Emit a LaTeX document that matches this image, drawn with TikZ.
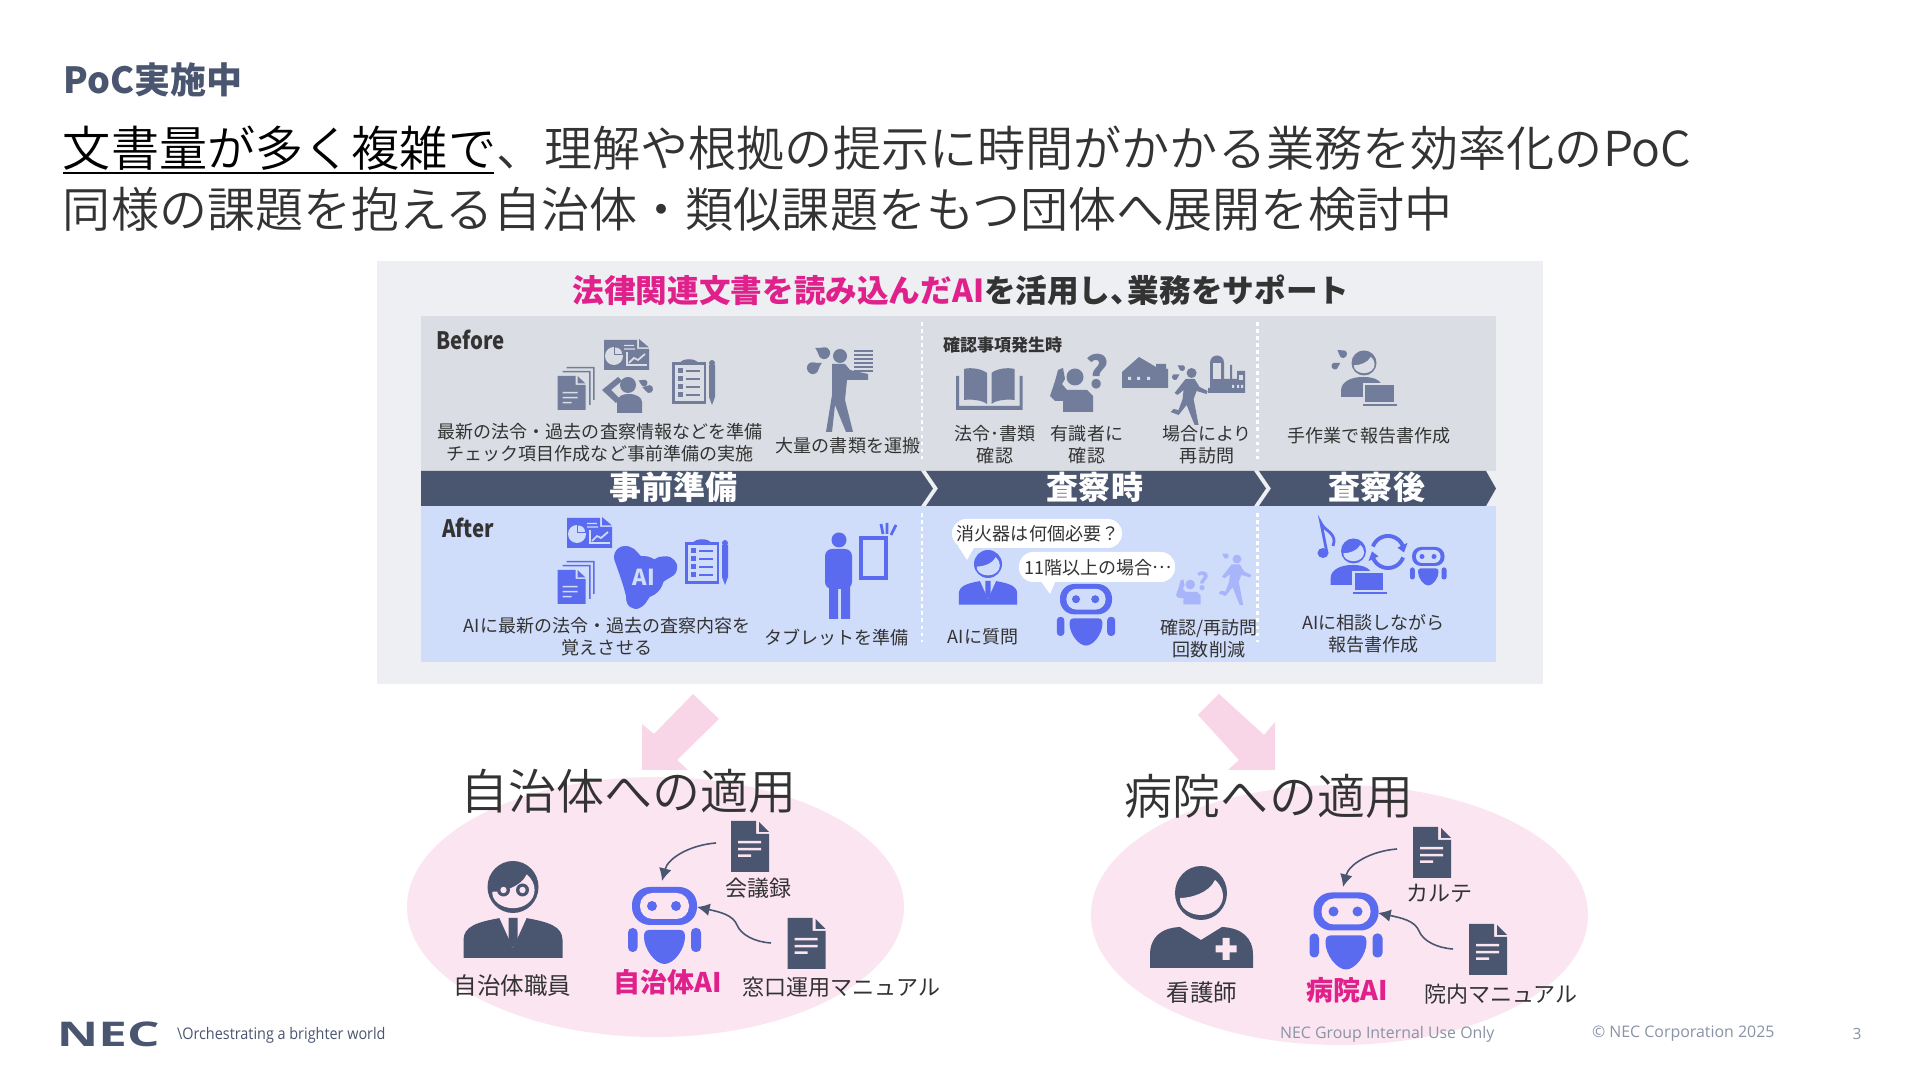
\documentclass[tikz,border=0pt]{standalone}
\usepackage{fontspec}
\usetikzlibrary{arrows.meta,calc}
\setmainfont{Noto Sans CJK JP}
\newfontfamily\lightf{Noto Sans CJK JP}[UprightFont=* DemiLight]
\newfontfamily\latinf{Open Sans}
\newcommand{\px}[2]{\fontsize{\fpeval{#1*0.28453}}{\fpeval{#2*0.28453}}\selectfont}
\definecolor{slate}{HTML}{717D9A}
\definecolor{bluei}{HTML}{5A6BF0}
\definecolor{lightb}{HTML}{A9B5FA}
\definecolor{darkb}{HTML}{4A5670}
\definecolor{pinkt}{HTML}{E1218B}
\definecolor{txt}{HTML}{333333}
\definecolor{panel}{HTML}{EDEFF3}
\definecolor{beforebg}{HTML}{DADDE3}
\definecolor{afterbg}{HTML}{CFDCFA}
\definecolor{ellip}{HTML}{FBE5F1}
\definecolor{arrowp}{HTML}{F9D5E8}
\definecolor{foot}{HTML}{8A93A6}
\tikzset{
  tx/.style={inner sep=0pt,outer sep=0pt,text=txt,align=center},
  captxt/.style={tx,font=\px{18}{22}},
  bigtxt/.style={tx,font=\px{22}{26}},
  barlabel/.style={tx,text=white,font=\bfseries\px{32}{36}},
  conn/.style={darkb,line width=0.45pt,-{Latex[length=3.6pt,width=3.6pt]}},
  dotsep/.style={white,line width=0.7pt,dash pattern=on 1pt off 1pt},
  looparc/.style={bluei,line width=1.1pt}
}
% document icon
\newcommand{\docicon}[4]{\begin{scope}[shift={(#1,#2)}]
 \fill[#3] (0,0)--(25,0)--(25,13)--(38,13)--(38,51)--(0,51)--cycle;
 \fill[#3] (28,1)--(38,11)--(28,11)--cycle;
 \fill[#4] (7,20) rectangle (30,22.5) (7,27) rectangle (30,29.5) (7,33.5) rectangle (20,36);
\end{scope}}
% robot
\newcommand{\robot}[5]{\begin{scope}[shift={(#1,#2)},scale=#3]
 \pgfmathsetmacro\rr{18*0.2845*#3}\pgfmathsetmacro\rb{12.5*0.2845*#3}\pgfmathsetmacro\ra{4.5*0.2845*#3}
 \fill[#4,rounded corners=\rr pt] (0,0) rectangle (65,38);
 \fill[#5,rounded corners=\rb pt] (8,6) rectangle (57,32);
 \fill[#4] (20,19) circle[radius=5] (44,19) circle[radius=5];
 \fill[#4,rounded corners=\ra pt] (-4,41) rectangle (5.5,65);
 \fill[#4,rounded corners=\ra pt] (59,41) rectangle (69,65);
 \fill[#4] (17,43)--(48,43) .. controls (52,43) and (53,46) .. (53,50) .. controls (53,62) and (42,77) .. (32.5,77) .. controls (23,77) and (12,62) .. (12,50) .. controls (12,46) and (13,43) .. (17,43) -- cycle;
\end{scope}}
% head ring: hair upper left
\newcommand{\headring}[6]{\begin{scope}[shift={(#1,#2)},xscale=#3/26,yscale=#4/27]
 \fill[#5] (0,0) ellipse[x radius=26,y radius=27];
 \fill[#6] (-21,5) .. controls (-10,5) and (8,0) .. (14,-13) .. controls (20,-8) and (22,-2) .. (22,3) .. controls (22,14) and (12,22) .. (0,22) .. controls (-12,22) and (-22,14) .. (-21,5) -- cycle;
\end{scope}}
% suit body
\newcommand{\suitbody}[5]{\begin{scope}[shift={(#1,#2)},scale=#3]
 \fill[#4] (-49.5,40)--(-49.5,22) .. controls (-49.5,8) and (-35,4) .. (-13,0)--(13,0) .. controls (35,4) and (49.5,8) .. (49.5,22)--(49.5,40)--cycle;
 \fill[#5] (-14,-1)--(0,30)--(14,-1)--cycle;
 \fill[#4] (-4.5,0)--(4.5,0)--(4.5,22)--(0,30)--(-4.5,22)--cycle;
\end{scope}}
% laptop person
\newcommand{\lapperson}[4]{\headring{#1}{#2}{12.5}{12.5}{#3}{#4}
\begin{scope}[shift={(#1,#2)}]
 \fill[#3] (-23,34)--(-23,28) .. controls (-23,18) and (-12,14) .. (-1,14) .. controls (12,14) and (19,18) .. (19,28)--(19,34)--cycle;
 \fill[#3,draw=#4,line width=0.7pt] (0,21) rectangle (31,40);
 \fill[#3] (-1,41.5) rectangle (33,43.5);
\end{scope}}
% drop
\newcommand{\drop}[5]{\begin{scope}[shift={(#1,#2)},rotate=#3,scale=#4]
 \fill[#5] (0,-1.7) .. controls (0.3,-0.9) and (1,-0.5) .. (1,0) .. controls (1,0.6) and (0.6,1) .. (0,1) .. controls (-0.6,1) and (-1,0.6) .. (-1,0) .. controls (-1,-0.5) and (-0.3,-0.9) .. (0,-1.7) -- cycle;
\end{scope}}
% phone person
\newcommand{\callperson}[4]{\begin{scope}[shift={(#1,#2)},scale=#3]
 \fill[#4] (25,22) circle[radius=8.5];
 \fill[#4] (8,15)--(13,13)--(15,24)--(12,29)--(17,35)--(37,35)--(43,41)--(43,57)--(13,57)--(13,46)--(5,46)--(0,41)--(5,26)--cycle;
\end{scope}}
% walker
\newcommand{\walker}[4]{\begin{scope}[shift={(#1,#2)},scale=#3]
 \fill[#4] (21,8) circle[radius=5];
 \fill[#4] (15,14)--(24,14)--(29,22)--(37,26)--(36,29)--(26,26)--(23,34)--(28,60)--(24,60)--(16,40)--(8,50)--(0,47)--(3,44)--(8,45)--(12,34)--(13,25)--(7,30)--(4,28)--cycle;
\end{scope}}
% stack of documents
\newcommand{\docstack}[4]{\begin{scope}[shift={(#1,#2)}]
 \fill[#3] (9,0) rectangle (37,1.5) (35.5,0) rectangle (37,33);
 \fill[#3] (5,4) rectangle (33,5.5) (31.5,4) rectangle (33,38);
 \fill[#3] (0,9)--(18,9)--(18,18)--(28,18)--(28,43)--(0,43)--cycle;
 \fill[#3] (20,9)--(28,16.5)--(20,16.5)--cycle;
 \fill[#4] (5,25) rectangle (20,26.5) (5,30) rectangle (20,31.5) (5,35) rectangle (14,36.5);
\end{scope}}
% chart document
\newcommand{\chartdoc}[4]{\begin{scope}[shift={(#1,#2)}]
 \fill[#3] (0,1)--(33,1)--(33,10)--(45,10)--(45,31)--(0,31)--cycle;
 \fill[#3] (35,0)--(45,8.5)--(35,8.5)--cycle;
 \fill[#4] (10,17) circle[radius=9];
 \fill[#3] (10,16) rectangle (19.5,7.5);
 \fill[#4] (11,15) -- (18,15) .. controls (18,11) and (15,8.5) .. (11,8.5) -- cycle;
 \fill[#4] (20,6) rectangle (30,7.2) (20,9.5) rectangle (31,10.7);
 \draw[#4,line width=0.35pt] (23,13)--(23,26)--(43,26);
 \draw[#4,line width=0.5pt] (25,24)--(30,19)--(34,21)--(41,15);
\end{scope}}
% clipboard
\newcommand{\clipb}[4]{\begin{scope}[shift={(#1,#2)}]
 \fill[#3] (0,3) rectangle (34,45);
 \fill[#3] (8,4) .. controls (10,-1) and (24,-1) .. (26,4) -- cycle;
 \fill[#4] (2.5,6) rectangle (31.5,42.5);
 \foreach \yy in {12,20,28,36}{
  \fill[#3] (5.5,\yy-2.5) rectangle (11,\yy+2.5);
  \fill[#3] (14,\yy-1) rectangle (28,\yy+1);
 }
 \fill[#3] (37,6)--(43,6)--(43,38)--(40,46)--(37,38)--cycle;
 \fill[#3] (40,4) circle[radius=3];
\end{scope}}
\begin{document}
\begin{tikzpicture}[x=0.01cm,y=-0.01cm]
\useasboundingbox (0,0) rectangle (1920,1080);
\fill[white] (0,0) rectangle (1920,1080);
% header
\node[tx,anchor=west,text=darkb,font=\bfseries\px{36}{40}] (poc) at (64,80) {PoC実施中};
\node[tx,anchor=west,font=\lightf\px{48.1}{56}] (l1) at (63,148) {\textcolor{black}{文書量が多く複雑で}、理解や根拠の提示に時間がかかる業務を効率化のPoC};
\draw[black,line width=0.75pt] (63,173) -- (494,173);
\node[tx,anchor=west,font=\lightf\px{48}{56}] (l2) at (63,209) {同様の課題を抱える自治体・類似課題をもつ団体へ展開を検討中};
% panel
\fill[panel] (377,261) rectangle (1543,684);
\fill[beforebg] (421,316) rectangle (1496,471);
\fill[afterbg] (421,506) rectangle (1496,662);
\node[tx,font=\bfseries\px{31.6}{36}] (ptitle) at (961,290) {\textcolor{pinkt}{法律関連文書を読み込んだAI}を活用し、\hspace{-0.45em}業務をサポート};
% chevron bar
\fill[darkb] (421,471)--(921,471)--(933,488.5)--(921,506)--(421,506)--cycle;
\fill[darkb] (926,471)--(1254,471)--(1266,488.5)--(1254,506)--(926,506)--(938,488.5)--cycle;
\fill[darkb] (1259,471)--(1486,471)--(1496,488.5)--(1486,506)--(1259,506)--(1271,488.5)--cycle;
\node[barlabel] (bar1) at (673.5,487) {事前準備};
\node[barlabel] (bar2) at (1095,487) {査察時};
\node[barlabel] (bar3) at (1377,487) {査察後};
% dotted separators
\draw[dotsep] (922,322)--(922,462);
\draw[dotsep] (1257.5,322)--(1257.5,462);
\draw[dotsep] (922,513)--(922,642);
\draw[dotsep] (1257.5,513)--(1257.5,642);
% labels
\node[tx,anchor=west,font=\bfseries\px{24}{28},xscale=0.85] (before) at (436,340) {Before};
\node[tx,anchor=west,font=\bfseries\px{24}{28},xscale=0.85] (after) at (442,528) {After};
\node[captxt] (c1) at (600,443) {最新の法令・過去の査察情報などを準備\\チェック項目作成など事前準備の実施};
\node[captxt] (c2) at (848,446) {大量の書類を運搬};
\node[tx,anchor=west,font=\bfseries\px{17}{20}] (c3) at (943,345) {確認事項発生時};
\node[captxt] (c4) at (995,445) {法令･書類\\確認};
\node[captxt] (c5) at (1087,445) {有識者に\\確認};
\node[captxt] (c6) at (1207,445) {場合により\\再訪問};
\node[captxt] (c7) at (1369,436) {手作業で報告書作成};
\node[captxt] (a1) at (607,636.5) {AIに最新の法令・過去の査察内容を\\覚えさせる};
\node[captxt] (a2) at (836.5,638) {タブレットを準備};
\node[captxt] (a3) at (983,637) {AIに質問};
\node[captxt] (a4) at (1209,639) {確認/再訪問\\回数削減};
\node[captxt] (a5) at (1373.5,634) {AIに相談しながら\\報告書作成};
% before icons
\docstack{557.5}{367}{slate}{beforebg}
\chartdoc{604}{339}{slate}{beforebg}
\fill[slate] (628,385) circle[radius=8];
\fill[slate] (617,413)--(617,402) .. controls (618,396) and (622,394) .. (629,394) .. controls (637,394) and (642,398) .. (642,402)--(642,413)--cycle;
\fill[slate] (618,377)--(602,390)--(616,403)--(620,399)--(611,390)--(622,381)--cycle;
\drop{644}{383}{65}{3.5}{slate}
\drop{649}{389}{75}{4}{slate}
\clipb{672}{359}{slate}{beforebg}
% carrying person
\fill[slate] (840,356) circle[radius=7];
\fill[slate] (832,364)--(845,364)--(850,370)--(868,374)--(868,380)--(847,380)--(845,400)--(853,432)--(846,432)--(835,405)--(832,432)--(826,432)--(832,395)--cycle;
\foreach \yy in {350,354,358,362,366,370}{\fill[slate] (854,\yy) rectangle (873,\yy+2.5);}
\drop{824}{353}{60}{6}{slate}
\drop{813}{368}{-60}{6}{slate}
% book
\begin{scope}[shift={(956,368)}]
 \fill[slate] (8,1) .. controls (15,-1) and (26,1) .. (31,5)--(31,36) .. controls (26,32) and (15,31) .. (8,32)--cycle;
 \fill[slate] (58.5,1) .. controls (51,-1) and (40,1) .. (35.5,5)--(35.5,36) .. controls (40,32) and (51,31) .. (58.5,32)--cycle;
 \fill[slate] (0,8)--(3,8)--(3,38)--(63.5,38)--(63.5,8)--(66.5,8)--(66.5,42)--(0,42)--cycle;
\end{scope}
\callperson{1050}{355}{1}{slate}
\node[tx,text=slate,font=\bfseries\px{44}{46}] (q1) at (1097,372) {?};
% factories and walker
\begin{scope}[shift={(1122,357)}]
 \fill[slate] (0,31)--(0,15)--(17,0)--(34,10)--(34,7)--(44,7)--(44,12)--(46,12)--(46,31)--cycle;
 \fill[beforebg] (6,20) rectangle (9,23) (15,20) rectangle (18,23) (25,20) rectangle (28,23);
\end{scope}
\walker{1170.6}{365}{1}{slate}
\drop{1182}{368}{60}{3}{slate}
\drop{1175}{377}{-60}{3}{slate}
\begin{scope}[shift={(1208,355)}]
 \fill[slate] (0,38)--(0,33)--(2,33)--(2,8) .. controls (2,-2) and (16,-2) .. (16,8)--(16,24)--(22,24)--(22,10)--(24,10)--(24,24)--(29,24)--(29,16)--(37,16)--(37,38)--cycle;
 \fill[beforebg] (5,8) rectangle (13,24);
 \fill[beforebg] (24,30) rectangle (26,33) (29,30) rectangle (31,33) (33,30) rectangle (35,33);
 \fill[beforebg] (31,20) rectangle (35,25);
\end{scope}
\lapperson{1364}{363}{slate}{beforebg}
\drop{1343}{354}{55}{4}{slate}
\drop{1335}{366}{-60}{3.5}{slate}
% after icons
\chartdoc{567}{517}{bluei}{afterbg}
\docstack{557.5}{561}{bluei}{afterbg}
\fill[bluei] plot[smooth cycle] coordinates {(614,557) (618,549) (626,546) (634,549) (643,558) (651,561) (659,557) (670,557) (677,565) (675,574) (666,580) (658,586) (651,595) (644,605) (636,609) (628,605) (626,596) (623,585) (619,573)};
\fill[bluei] (625,557) circle[radius=11] (667,567) circle[radius=10] (636,598) circle[radius=10] (643,577) circle[radius=21];
\node[tx,text=afterbg,font=\bfseries\px{22}{24}] (ai) at (644,577) {AI};
\clipb{685}{539}{bluei}{afterbg}
\fill[bluei] (839,540) circle[radius=7.5];
\fill[bluei,rounded corners=2pt] (825,549) rectangle (852,589);
\fill[bluei] (829,580) rectangle (838,619) (841,580) rectangle (850,619);
\draw[bluei,line width=0.9pt] (861,538) rectangle (886,578);
\draw[bluei,line width=0.8pt] (881,524)--(883,534) (887,523)--(887,534) (896,525)--(891,535);
% bubbles
\fill[white,rounded corners=4pt] (952,519) rectangle (1122,548);
\fill[white] (958,546)--(975,546)--(967,560)--cycle;
\fill[white,rounded corners=4pt] (1019,552) rectangle (1175,582);
\fill[white] (1040,580)--(1056,580)--(1050,594)--cycle;
\node[tx,font=\px{18}{22}] (b1) at (1038,534) {消火器は何個必要？};
\node[tx,font=\px{18}{22}] (b2) at (1098,567.5) {11階以上の場合\raisebox{0.3em}{…}};
% office person, robot, light figures
\headring{988}{564}{14}{14}{bluei}{afterbg}
\suitbody{988}{581}{0.59}{bluei}{afterbg}
\robot{1060}{584}{0.8}{bluei}{afterbg}
\callperson{1176}{572}{0.57}{lightb}
\node[tx,text=lightb,font=\bfseries\px{24}{26}] (q2) at (1203,581) {?};
\walker{1218.5}{552}{0.88}{lightb}
\drop{1226}{556}{60}{2.6}{lightb}
\lapperson{1353.5}{551}{bluei}{afterbg}
% note
\fill[bluei] (1323,553) ellipse[x radius=5.5,y radius=5];
\draw[bluei,line width=0.8pt] (1327,553)--(1321,523) .. controls (1324,531) and (1338,533) .. (1333,546);
% loop arrows
\draw[looparc] plot[smooth,domain=200:338,samples=25] ({1388+16*cos(\x)},{552+16*sin(\x)});
\fill[bluei] (1397.5,547.6)--(1407.5,542.9)--(1404,552.5)--cycle;
\draw[looparc] plot[smooth,domain=20:158,samples=25] ({1388+16*cos(\x)},{552+16*sin(\x)});
\fill[bluei] (1378.5,556.4)--(1368.5,561.1)--(1372,551.5)--cycle;
\robot{1412}{547}{0.5}{bluei}{afterbg}
% arrows
\fill[arrowp] (693,694)--(719,719)--(677,760)--(688,770)--(642,770)--(642,724)--(654,734)--cycle;
\fill[arrowp] (1219,694)--(1264,735)--(1275,722)--(1275,770)--(1228,770)--(1239,760)--(1198,715)--cycle;
% ellipses
\fill[ellip] (655.5,907) ellipse[x radius=248.5,y radius=130];
\fill[ellip] (1339.5,915) ellipse[x radius=248.5,y radius=130];
\node[tx,font=\lightf\px{48}{52}] (h1) at (628.5,791) {自治体への適用};
\node[tx,font=\lightf\px{48}{52}] (h2) at (1269,796) {病院への適用};
% left group
\headring{513}{887}{25.5}{26}{darkb}{ellip}
\fill[darkb] (503.5,890) circle[radius=6.5] (522.5,890) circle[radius=6.5];
\fill[ellip] (503.5,890) circle[radius=3.2] (522.5,890) circle[radius=3.2];
\suitbody{513}{918}{1}{darkb}{ellip}
\robot{632}{887}{1}{bluei}{ellip}
\docicon{731}{821}{darkb}{ellip}
\docicon{787.5}{918}{darkb}{ellip}
\coordinate (d1) at (716,843);
\coordinate (d2) at (771,943);
\coordinate (r1) at (662,881);
\coordinate (r2) at (697,907);
\draw[conn] (d1) .. controls (690,845) and (668,858) .. (r1);
\draw[conn] (d2) .. controls (755,942) and (741,935) .. (737,925) .. controls (733,915) and (720,912) .. (r2);
\node[bigtxt] (t1) at (758.5,888.5) {会議録};
\node[bigtxt] (t2) at (841.5,987.5) {窓口運用マニュアル};
\node[bigtxt,font=\px{23.5}{26}] (t3) at (512.5,985.5) {自治体職員};
\node[tx,text=pinkt,font=\bfseries\px{27}{30}] (t4) at (668,982.5) {自治体AI};
% right group
\headring{1201}{893}{26}{27}{darkb}{ellip}
\fill[darkb] (1150,968)--(1150,955) .. controls (1150,938) and (1160,928) .. (1180,927)--(1201,940)--(1222,927) .. controls (1242,928) and (1253,938) .. (1253,955)--(1253,968)--cycle;
\fill[ellip] (1222.5,938) rectangle (1229.5,960) (1215.5,945.5) rectangle (1236.5,952.5);
\robot{1313.5}{892.5}{1}{bluei}{ellip}
\docicon{1413}{827}{darkb}{ellip}
\docicon{1469}{924}{darkb}{ellip}
\coordinate (d3) at (1397,849);
\coordinate (d4) at (1453,949);
\coordinate (r3) at (1343,887);
\coordinate (r4) at (1378,913);
\draw[conn] (d3) .. controls (1371,851) and (1349,864) .. (r3);
\draw[conn] (d4) .. controls (1437,948) and (1423,941) .. (1419,931) .. controls (1415,921) and (1402,918) .. (r4);
\node[bigtxt] (t5) at (1439.5,893.5) {カルテ};
\node[bigtxt] (t6) at (1501,994.5) {院内マニュアル};
\node[bigtxt,font=\px{23.5}{26}] (t7) at (1202,992.5) {看護師};
\node[tx,text=pinkt,font=\bfseries\px{27}{30}] (t8) at (1347,990.5) {病院AI};
% footer
\node[tx,anchor=west,text=darkb,font=\latinf\bfseries\px{34}{36},xscale=1.5] (nec) at (57,1034) {NEC};
\node[tx,anchor=west,text=darkb,font=\latinf\px{16}{18},xscale=0.9] (tag) at (177,1035) {\textbackslash Orchestrating a brighter world};
\node[tx,anchor=west,text=foot,font=\latinf\px{15.9}{18}] (f1) at (1280,1034) {NEC Group Internal Use Only};
\node[tx,anchor=west,text=foot,font=\latinf\px{15.9}{18}] (f2) at (1592,1034) {© NEC Corporation 2025};
\node[tx,text=foot,font=\latinf\px{15.5}{18}] (f3) at (1857,1034) {3};
\end{tikzpicture}
\end{document}
